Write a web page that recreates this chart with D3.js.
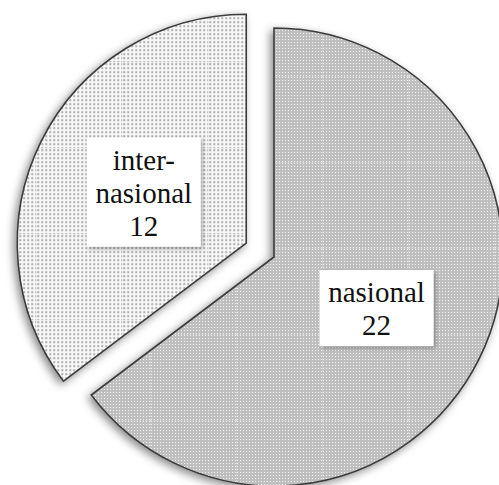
<!DOCTYPE html>
<html>
<head>
<meta charset="utf-8" />
<script src="https://cdn.jsdelivr.net/npm/d3@7"></script>
<style>
  body { margin: 0; background: #fff; }
  svg { display: block; }
  .slice { stroke: #3c3c3c; stroke-width: 1.6px; stroke-linejoin: miter; }
</style>
</head>
<body>
<svg></svg>
<script>
// chart data
var categories = ['nasional', 'inter-nasional'];
var values = [22, 12];
var exploded = [false, true];

var width = 499, height = 485;
var cx = 274, cy = 257, radius = 229;
var explode = 31;
var lineHeight = 33;

var svg = d3.select('svg')
  .attr('width', width)
  .attr('height', height);

var defs = svg.append('defs');

// soft shadow under the pie
var sh = defs.append('filter').attr('id', 'pieShadow')
  .attr('x', '-20%').attr('y', '-20%').attr('width', '140%').attr('height', '140%');
sh.append('feDropShadow')
  .attr('dx', -3).attr('dy', 3).attr('stdDeviation', 4)
  .attr('flood-color', '#000').attr('flood-opacity', 0.45);

var bs = defs.append('filter').attr('id', 'boxShadow')
  .attr('x', '-20%').attr('y', '-20%').attr('width', '140%').attr('height', '140%');
bs.append('feDropShadow')
  .attr('dx', 2).attr('dy', 2).attr('stdDeviation', 2)
  .attr('flood-color', '#000').attr('flood-opacity', 0.3);

// fine dot patterns
var fine = defs.append('pattern').attr('id', 'fineDots')
  .attr('patternUnits', 'userSpaceOnUse').attr('width', 3).attr('height', 3);
fine.append('rect').attr('width', 3).attr('height', 3).attr('fill', '#bfbfbf');
fine.append('rect').attr('x', 1).attr('y', 1).attr('width', 1).attr('height', 1).attr('fill', '#f0f0f0');

var coarse = defs.append('pattern').attr('id', 'coarseDots')
  .attr('patternUnits', 'userSpaceOnUse').attr('width', 4).attr('height', 4);
coarse.append('rect').attr('width', 4).attr('height', 4).attr('fill', '#fafafa');
coarse.append('circle').attr('cx', 2).attr('cy', 2).attr('r', 1.2).attr('fill', '#b0b0b0');

// faint tile seams like the original bitmap fill
function seamPattern(id, inner) {
  var p = defs.append('pattern').attr('id', id)
    .attr('patternUnits', 'userSpaceOnUse')
    .attr('x', 48).attr('y', 77).attr('width', 86).attr('height', 86);
  p.append('rect').attr('width', 86).attr('height', 86).attr('fill', 'url(#' + inner + ')');
  p.append('line').attr('x1', 0).attr('y1', 0.5).attr('x2', 86).attr('y2', 0.5)
    .attr('stroke', '#eeeeee').attr('stroke-width', 1).attr('stroke-dasharray', '2,1').attr('opacity', 0.3);
  p.append('line').attr('x1', 0.5).attr('y1', 0).attr('x2', 0.5).attr('y2', 86)
    .attr('stroke', '#eeeeee').attr('stroke-width', 1).attr('stroke-dasharray', '2,1').attr('opacity', 0.3);
}
seamPattern('fillNas', 'fineDots');
seamPattern('fillInt', 'coarseDots');
var fills = ['url(#fillNas)', 'url(#fillInt)'];

var pie = d3.pie().sort(null).value(function (d) { return d; });
var arcs = pie(values);

var arc = d3.arc().innerRadius(0).outerRadius(radius);

function offset(d, i) {
  if (!exploded[i]) return [0, 0];
  var mid = (d.startAngle + d.endAngle) / 2;
  return [Math.sin(mid) * explode, -Math.cos(mid) * explode];
}

var g = svg.append('g').attr('transform', 'translate(' + cx + ',' + cy + ')');

g.append('g').attr('filter', 'url(#pieShadow)')
  .selectAll('path')
  .data(arcs)
  .enter().append('path')
  .attr('class', 'slice')
  .attr('d', arc)
  .attr('fill', function (d, i) { return fills[i]; })
  .attr('transform', function (d, i) { return 'translate(' + offset(d, i) + ')'; });

// data labels in white boxes
var lbl = g.selectAll('.lbl')
  .data(arcs)
  .enter().append('g')
  .attr('class', 'lbl')
  .attr('transform', function (d, i) {
    var c = arc.centroid(d), o = offset(d, i);
    return 'translate(' + (c[0] + o[0]) + ',' + (c[1] + o[1]) + ')';
  });

lbl.each(function (d, i) {
  var sel = d3.select(this);
  var name = categories[i];
  var cut = name.indexOf('-');
  var lines = cut >= 0 ? [name.slice(0, cut + 1), name.slice(cut + 1)] : [name];
  lines.push(String(values[i]));
  var h = lines.length * lineHeight + 10;
  var box = sel.append('rect').attr('fill', '#fff').attr('filter', 'url(#boxShadow)');
  var t = sel.append('text')
    .style('font-family', '"Liberation Serif"')
    .style('font-size', '29px')
    .style('fill', '#111')
    .style('text-anchor', 'middle');
  lines.forEach(function (s, k) {
    t.append('tspan').attr('x', 0).attr('y', -h / 2 + 32 + k * lineHeight).text(s);
  });
  var w = 0;
  t.selectAll('tspan').each(function () { w = Math.max(w, this.getComputedTextLength()); });
  w = Math.max(w + 16, 114);
  box.attr('x', -w / 2).attr('y', -h / 2).attr('width', w).attr('height', h);
});
</script>
</body>
</html>
